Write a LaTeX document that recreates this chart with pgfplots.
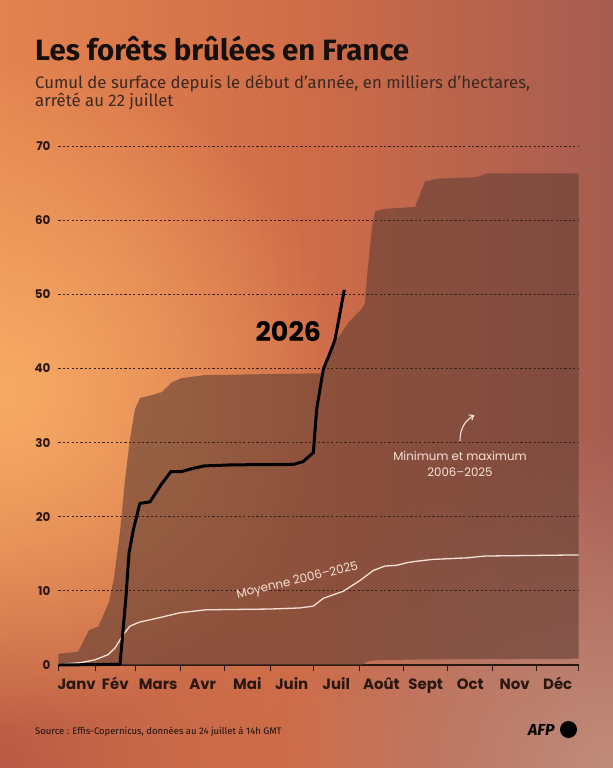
\documentclass[border=0pt]{standalone}
\usepackage{fontspec}
\usepackage{pgfplots}
\pgfplotsset{compat=1.18}
\usetikzlibrary{fadings,arrows.meta}
\setmainfont{Fira Sans}
\newfontfamily\pop{Poppins}
\definecolor{titc}{HTML}{15100E}
\definecolor{subc}{HTML}{3A2822}
\definecolor{labc}{HTML}{2A1711}
\definecolor{axisc}{HTML}{2A1711}
\definecolor{gridc}{HTML}{3A2018}
\definecolor{areac}{HTML}{654035}
\definecolor{creme}{HTML}{F6E2D6}
\definecolor{bgL}{HTML}{E3834F}
\definecolor{bgM}{HTML}{CF6C48}
\definecolor{bgR}{HTML}{A65C50}
\definecolor{glowA}{HTML}{F7AB65}
\definecolor{glowB}{HTML}{C28C7A}
\definecolor{glowC}{HTML}{B85A45}
\tikzfading[name=glowfade, inner color=transparent!0, outer color=transparent!100]
\begin{document}
\begin{tikzpicture}[x=1bp,y=1bp]
\shade[left color=bgL, right color=bgR, middle color=bgM] (0,0) rectangle (613,-768);
\begin{scope}
\clip (0,0) rectangle (613,-768);
\fill[overlay, glowC, path fading=glowfade] (0bp,-768bp) circle (320bp);
\fill[overlay, glowA, path fading=glowfade] (0bp,-390bp) circle (340bp);
\fill[overlay, glowB, path fading=glowfade] (613bp,-768bp) circle (340bp);
\end{scope}

\begin{axis}[
  at={(58.3bp,-665bp)}, anchor=south west,
  scale only axis, width=520.4bp, height=519bp,
  xmin=0, xmax=365, ymin=0, ymax=70,
  clip=false,
  axis lines=left,
  axis line style={-},
  x axis line style={draw=axisc, line width=1.3bp},
  y axis line style={draw=none},
  xtick={0,25.74,54.29,85.85,116.71,148.48,178.85,210.9,242.25,273.11,304.67,335.53,365},
  xticklabels={Janv,Fév,Mars,Avr,Mai,Juin,Juil,Août,Sept,Oct,Nov,Déc},
  x tick label as interval,
  ytick={0,10,...,70},
  tick align=inside,
  major tick length=6bp,
  xtick style={draw=axisc, line width=1bp, yshift=-6bp},
  ytick style={draw=none},
  xticklabel style={font=\pop\bfseries\fontsize{15}{15}\selectfont, text=labc, anchor=base, inner sep=0pt, yshift=-24.5bp},
  yticklabel style={font=\pop\bfseries\fontsize{12}{12}\selectfont, text=labc, anchor=east, inner sep=0pt, xshift=-7.6bp},
  /pgf/number format/assume math mode=true,
]
% envelope min/max 2006-2025: max from left to right, then min from right to left
\addplot[fill=areac, fill opacity=0.62, draw=none] coordinates {
(0,1.5) (14.0,1.8) (21.5,4.7) (28.1,5.2) (35.6,8.5) (39.1,11.8) (43.3,18.0) (46.8,25.0) (50.3,30.5) (53.8,34.5) (57.2,36.0) (65.5,36.4) (72.5,36.8) (79.5,38.1) (86.6,38.7) (102.9,39.1) (184.7,39.35) (190.6,41.4) (194.1,43.5) (203.4,46.2) (212.8,48.0) (215.1,48.8) (216.3,52.0) (219.8,58.7) (222.1,61.2) (228.0,61.5) (250.2,61.8) (257.2,65.2) (265.4,65.6) (293.5,65.8) (300.5,66.3) (365,66.3)
(365,0.85) (253.7,0.75) (223.5,0.65) (217.2,0.5) (213.0,0) (0,0)
};
\pgfplotsinvokeforeach{10,20,...,70}{
\addplot[gridc, line width=0.8bp, dash pattern=on 2.2bp off 2.2bp] coordinates {(0,#1) (365,#1)};
}
\addplot[creme, line width=1.3bp, line join=round] coordinates {
(0,0.1) (15.2,0.3) (25.7,0.7) (34.9,1.4) (39.8,2.3) (43.3,3.4) (46.8,4.4) (50.3,5.25) (57.2,5.8) (71.3,6.4) (85.4,7.05) (103.6,7.45) (148.5,7.55) (169.5,7.7) (178.9,7.95) (185.9,9.0) (199.9,9.95) (211.6,11.4) (220.9,12.75) (229.1,13.35) (237.4,13.45) (244.4,13.8) (251.4,14.0) (263.0,14.25) (286.5,14.45) (299.3,14.7) (365,14.85)
};
\addplot[black, line width=3bp, line join=round] coordinates {
(0,0) (43.3,0.1) (47.3,8.8) (49.6,15.1) (52.6,18.2) (57.2,21.8) (64.3,22.0) (72.0,24.3) (79.0,26.1) (86.6,26.1) (94.1,26.5) (102.2,26.85) (122.5,27.0) (164.8,27.05) (171.8,27.45) (178.9,28.65) (181.2,34.5) (185.9,39.9) (190.6,42.1) (194.1,43.9) (200.6,50.6)
};
\end{axis}

\node[anchor=base west, inner sep=0pt, text=titc, font=\bfseries\fontsize{29.5}{29.5}\selectfont] at (35,-61) {Les forêts brûlées en France};
\node[anchor=base west, inner sep=0pt, text=subc, font=\fontsize{16.8}{16.8}\selectfont] at (35,-88.5) {Cumul de surface depuis le début d’année, en milliers d’hectares,};
\node[anchor=base west, inner sep=0pt, text=subc, font=\fontsize{16.8}{16.8}\selectfont] at (35,-106.5) {arrêté au 22 juillet};
\node[text=black, font=\pop\bfseries\fontsize{27}{27}\selectfont] at (288.3,-331.7) {2026};
\node[rotate=13.5, text=creme, font=\pop\fontsize{12}{12}\selectfont] at (297.5,-581) {Moyenne 2006–2025};
\node[align=center, text=creme, font=\pop\fontsize{11.8}{16.5}\selectfont] at (460,-464) {Minimum et maximum\\2006–2025};
\draw[creme, line width=1.1bp, -{Straight Barb[length=4bp, width=6bp]}] (460,-441) to[bend left=30] (474.5,-415);
\node[anchor=base west, inner sep=0pt, text=titc, font=\fontsize{9.5}{9.5}\selectfont] at (35,-734) {Source : Effis-Copernicus, données au 24 juillet à 14h GMT};
\node[anchor=base west, inner sep=0pt, text=black, font=\bfseries\itshape\fontsize{16}{16}\selectfont] at (528,-735.5) {AFP};
\fill[black] (568.5,-729.5) circle (8.5bp);
\end{tikzpicture}
\end{document}
